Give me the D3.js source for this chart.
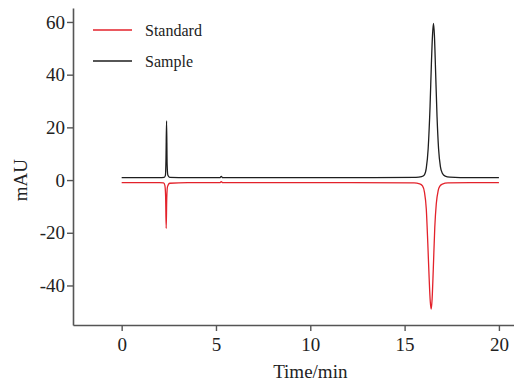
<!DOCTYPE html>
<html>
<head>
<meta charset="utf-8">
<script src="https://cdn.jsdelivr.net/npm/d3@7"></script>
<style>
  body { margin: 0; background: #fff; }
  svg { display: block; }
  text { font-family: "Liberation Serif", "Times New Roman", serif; fill: #222; }
</style>
</head>
<body>
<div id="chart"></div>
<script>
// chromatogram traces (time in min, absorbance in mAU)
const sampleTime = [0, 1.0, 2.0, 2.25, 2.32, 2.35, 2.38, 2.41, 2.45, 2.55, 3.5, 5.2, 5.28, 5.36, 8, 12,
  15.6, 15.9, 16.05, 16.15, 16.25, 16.35, 16.42, 16.48, 16.53, 16.58, 16.64, 16.72, 16.8, 16.9, 17.0, 17.15, 17.4, 18.5, 20];
const sampleVal = [0.9, 0.9, 0.9, 1.0, 1.8, 8, 22.5, 6, 1.8, 1.0, 0.9, 0.9, 1.4, 0.9, 0.9, 0.9,
  1.0, 1.3, 2.0, 4.5, 12, 28, 44, 55, 59.5, 55, 42, 24, 12, 5, 2.6, 1.5, 1.1, 0.9, 0.9];

const standardTime = [0, 1.0, 2.0, 2.22, 2.29, 2.33, 2.36, 2.39, 2.43, 2.55, 3.5, 5.2, 5.28, 5.36, 8, 12,
  15.5, 15.8, 15.95, 16.05, 16.15, 16.23, 16.3, 16.36, 16.41, 16.46, 16.52, 16.6, 16.68, 16.78, 16.88, 17.0, 17.3, 18.5, 20];
const standardVal = [-1, -1, -1, -1.1, -2, -6, -18.3, -7, -2.5, -1.2, -1, -1, -0.6, -1, -1, -1,
  -1.1, -1.4, -2.2, -4.5, -11, -24, -37, -46, -49, -45, -34, -18, -9, -4, -2.2, -1.5, -1.1, -1, -1];

const xTicks = [0, 5, 10, 15, 20];
const yTicks = [-40, -20, 0, 20, 40, 60];
const seriesNames = ["Standard", "Sample"];
const seriesColors = ["#e3222b", "#1e1e1e"];

const width = 514, height = 383;
const margin = { top: 8, right: 0, bottom: 58, left: 73 };

const svg = d3.select("#chart").append("svg")
  .attr("width", width)
  .attr("height", height);

const x = d3.scaleLinear().domain([-2.58, 20.8]).range([margin.left, width - margin.right]);
const y = d3.scaleLinear().domain([-55, 65.3]).range([height - margin.bottom, margin.top]);

// plain hyphen for negatives, like the original
const fmt = d => String(d);

const xAxis = svg.append("g")
  .attr("transform", `translate(0,${height - margin.bottom})`)
  .call(d3.axisBottom(x).tickValues(xTicks).tickFormat(fmt).tickSize(6).tickPadding(7).tickSizeOuter(0));
const yAxis = svg.append("g")
  .attr("transform", `translate(${margin.left},0)`)
  .call(d3.axisLeft(y).tickValues(yTicks).tickFormat(fmt).tickSize(6).tickPadding(2).tickSizeOuter(0));

[xAxis, yAxis].forEach(g => {
  g.attr("font-family", null).attr("font-size", null);
  g.select(".domain").attr("stroke", "#555").attr("stroke-width", 1.6);
  g.selectAll(".tick line").attr("stroke", "#555").attr("stroke-width", 1.4);
  g.selectAll(".tick text")
    .style("font-family", '"Liberation Serif", serif')
    .style("font-size", "19px")
    .attr("fill", "#222");
});

const line = d3.line()
  .x(d => x(d[0]))
  .y(d => y(d[1]))
  .curve(d3.curveMonotoneX);

const traces = [
  d3.zip(standardTime, standardVal),
  d3.zip(sampleTime, sampleVal)
];

svg.append("g").selectAll("path")
  .data(traces)
  .join("path")
  .attr("fill", "none")
  .attr("stroke", (d, i) => seriesColors[i])
  .attr("stroke-width", 1.3)
  .attr("stroke-linejoin", "round")
  .attr("d", line);

// legend
const legend = svg.append("g").attr("transform", "translate(93,30)");
const items = legend.selectAll("g")
  .data(seriesNames)
  .join("g")
  .attr("transform", (d, i) => `translate(0,${i * 31})`);
items.append("line")
  .attr("x1", 0).attr("x2", 39)
  .attr("stroke", (d, i) => seriesColors[i])
  .attr("stroke-width", 1.3);
items.append("text")
  .attr("x", 52)
  .attr("dy", "0.35em")
  .style("font-size", "16px")
  .text(d => d);

// axis titles
svg.append("text")
  .attr("x", (x(0) + x(20)) / 2)
  .attr("y", 378)
  .attr("text-anchor", "middle")
  .style("font-size", "19px")
  .text("Time/min");

svg.append("text")
  .attr("transform", `translate(27,${y(0)}) rotate(-90)`)
  .attr("text-anchor", "middle")
  .style("font-size", "19px")
  .text("mAU");
</script>
</body>
</html>
